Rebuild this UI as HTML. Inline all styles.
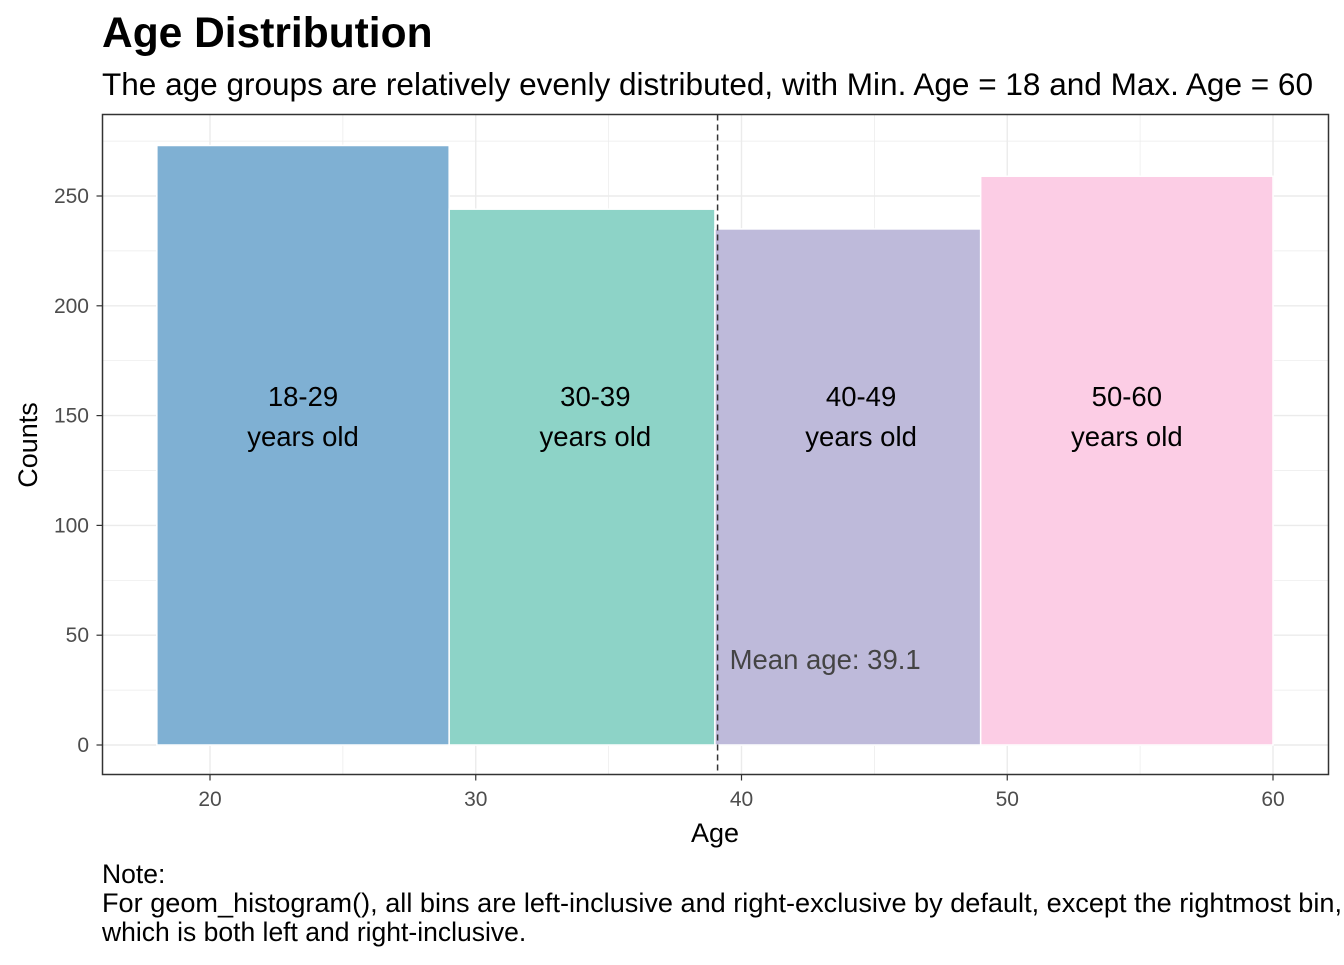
<!DOCTYPE html>
<html><head><meta charset="utf-8"><style>
body{margin:0;background:#fff;font-family:"Liberation Sans",Arial,sans-serif;}
svg text{font-family:"Liberation Sans",Arial,sans-serif;}
</style></head><body>
<svg id="chart" width="1344" height="960" xmlns="http://www.w3.org/2000/svg">
<text x="102" y="47" font-size="42.5" font-weight="bold" fill="#000">Age Distribution</text>
<text x="102" y="95" font-size="31.5" fill="#000" textLength="1211" lengthAdjust="spacingAndGlyphs">The age groups are relatively evenly distributed, with Min. Age = 18 and Max. Age = 60</text>
<g id="grid"></g><g id="bars"></g><g id="labels"></g><g id="axes"></g>
<rect x="102.5" y="114.5" width="1226" height="660" fill="none" stroke="#333" stroke-width="1.5"/>
<text x="715" y="842" font-size="27" text-anchor="middle">Age</text>
<text transform="translate(37,445) rotate(-90)" font-size="27" text-anchor="middle">Counts</text>
<text x="102" y="883" font-size="26.5">Note:</text>
<text x="102" y="912" font-size="26.5" textLength="1240" lengthAdjust="spacingAndGlyphs">For geom_histogram(), all bins are left-inclusive and right-exclusive by default, except the rightmost bin,</text>
<text x="102" y="941" font-size="26.5">which is both left and right-inclusive.</text>
</svg>
<script>
const binStarts=[18,29,39,49];
const binEnds=[29,39,49,60];
const counts=[273,244,235,259];
const binLabels=["18-29","30-39","40-49","50-60"];
const labelAges=[23.5,34.5,44.5,54.5];
const colors=["#7fb0d3","#8dd3c7","#bebada","#fccde5"];
const xTicks=[20,30,40,50,60];
const yTicks=[0,50,100,150,200,250];
const meanAge=39.1;
const NS="http://www.w3.org/2000/svg";
const X=v=>210+(v-20)*26.575;
const Y=v=>745-v*2.196;
function mk(tag,attrs,parent,text){const e=document.createElementNS(NS,tag);for(const k in attrs)e.setAttribute(k,attrs[k]);if(text!==undefined)e.textContent=text;document.getElementById(parent).appendChild(e);return e;}
const L=102.5,R=1328.5,T=114.5,B=774.5;
for(let v=15;v<=65;v+=5){const x=X(v);if(x<L||x>R)continue;const g=mk('line',{x1:x,x2:x,y1:T,y2:B,stroke:'#ebebeb','stroke-width':v%10===0?1.4:0.7},'grid');

}
for(let v=-25;v<=300;v+=25){const y=Y(v);if(y<T||y>B)continue;const g=mk('line',{x1:L,x2:R,y1:y,y2:y,stroke:'#ebebeb','stroke-width':v%50===0?1.4:0.7},'grid');

}
counts.forEach((c,i)=>{const x0=X(binStarts[i]),x1=X(binEnds[i]);
const r=mk('rect',{x:x0,y:Y(c),width:x1-x0,height:Y(0)-Y(c),fill:colors[i],stroke:'#fff','stroke-width':1.5},'bars');


const cx=X(labelAges[i]);
const t1=mk('text',{x:cx,y:406,'font-size':27.5,'text-anchor':'middle'},'labels',binLabels[i]);


const t2=mk('text',{x:cx,y:446,'font-size':27.5,'text-anchor':'middle'},'labels','years old');

});
const ml=mk('line',{x1:X(meanAge),x2:X(meanAge),y1:T,y2:B,stroke:'#333','stroke-width':1.5,'stroke-dasharray':'6,4'},'labels');


const mt=mk('text',{x:X(meanAge)+12,y:669,'font-size':27.5,fill:'#444'},'labels','Mean age: '+meanAge);


xTicks.forEach(v=>{const x=X(v);mk('line',{x1:x,x2:x,y1:B,y2:B+6,stroke:'#333','stroke-width':1.2},'axes');
const t=mk('text',{x:x,y:806,'font-size':21,fill:'#4d4d4d','text-anchor':'middle'},'axes',v);

});
yTicks.forEach(v=>{const y=Y(v);mk('line',{x1:L-6,x2:L,y1:y,y2:y,stroke:'#333','stroke-width':1.2},'axes');
const t=mk('text',{x:89,y:y+7,'font-size':21,fill:'#4d4d4d','text-anchor':'end'},'axes',v);

});
</script>
</body></html>
